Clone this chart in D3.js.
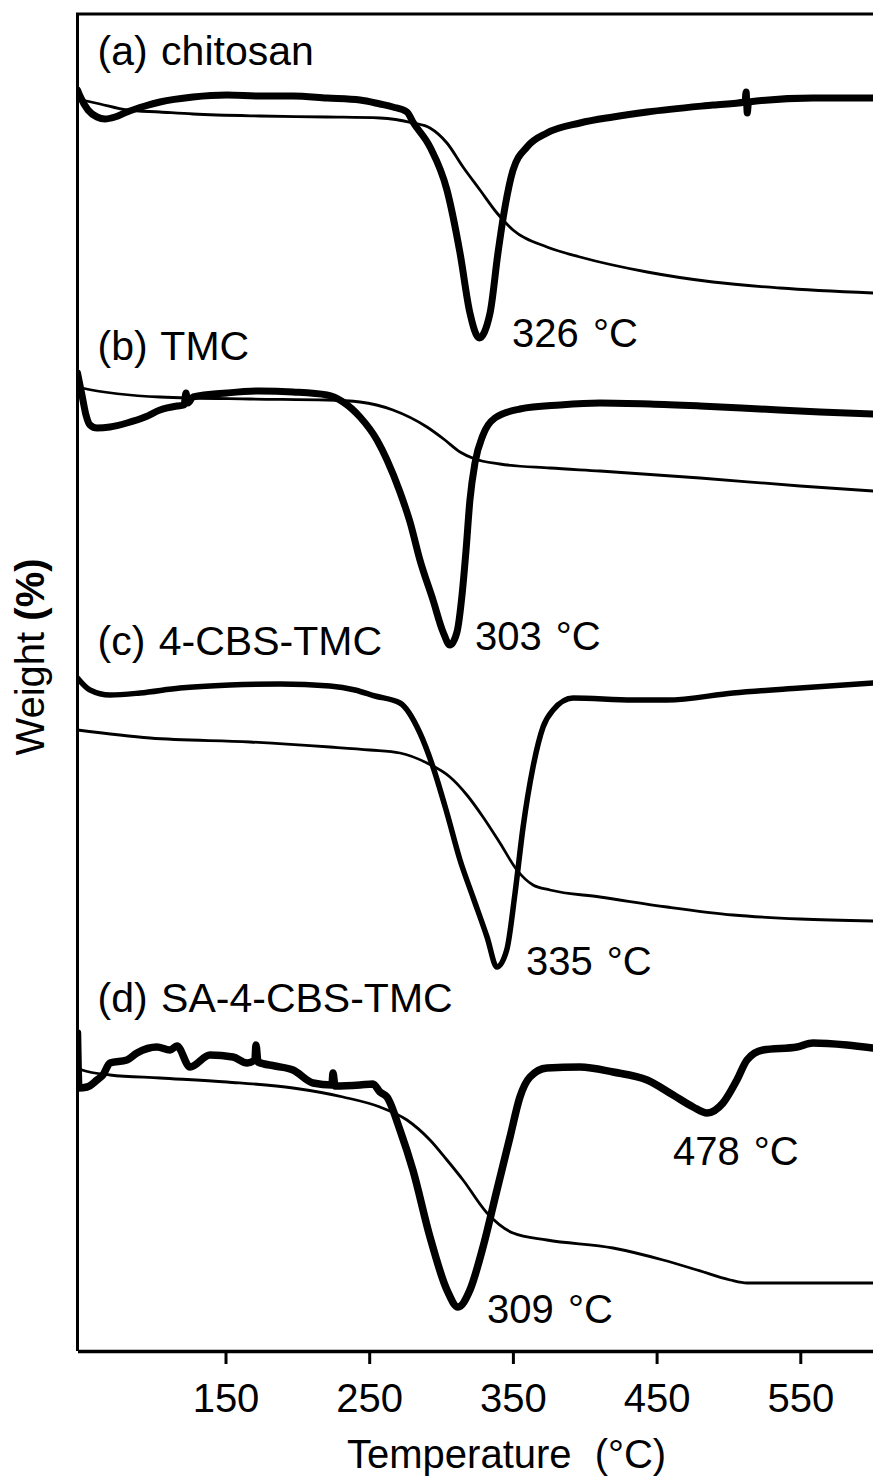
<!DOCTYPE html>
<html>
<head>
<meta charset="utf-8">
<script src="https://cdn.jsdelivr.net/npm/d3@7"></script>
<style>
  html, body { margin: 0; padding: 0; background: #fff; }
  svg { display: block; }
  text { font-family: "Liberation Sans", Arial, sans-serif; fill: #000; }
</style>
</head>
<body>
<svg id="chart" width="873" height="1481"></svg>
<script>
// ---------- DATA (temperature in °C, signal in arbitrary stacked units) ----------
const xTicks = [150, 250, 350, 450, 550];
const xLabel = "Temperature (\u00B0C)";
const yLabel = "Weight ";
const yLabelBold = "(%)";

const panelNames = ["(a) chitosan", "(b) TMC", "(c) 4-CBS-TMC", "(d) SA-4-CBS-TMC"];
const panelNameT = [61, 61, 61, 61];
const panelNameU = [128.6, 99.1, 69.6, 33.9];

const peakLabels = ["326 \u00B0C", "303 \u00B0C", "335 \u00B0C", "478 \u00B0C", "309 \u00B0C"];
const peakLabelT = [349.4, 323.6, 359.1, 461.4, 332.0];
const peakLabelU = [100.4, 70.1, 37.6, 18.6, 2.8];

// (a) chitosan
const tgaA_T = [47.0, 62.7, 81.4, 104.4, 127.4, 174.0, 220.6, 257.5, 280.4, 292.3, 304.1, 315.3, 327.1, 338.9, 350.1, 373.7, 396.7, 443.4, 489.2, 535.9, 600.6];
const tgaA_U = [125.2, 124.7, 124.1, 123.9, 123.7, 123.5, 123.4, 123.3, 122.8, 122.3, 120.8, 118.4, 116.1, 113.8, 112.1, 110.4, 109.4, 107.9, 106.9, 106.3, 105.8];
const dtgA_T = [47.0, 48.7, 54.3, 60.6, 66.1, 73.1, 81.4, 94.0, 104.4, 127.4, 151.0, 174.0, 197.0, 220.6, 243.6, 257.5, 266.5, 276.3, 280.4, 292.3, 304.1, 313.2, 320.1, 326.5, 334.1, 339.6, 344.5, 350.1, 359.8, 373.7, 396.7, 419.7, 443.4, 489.2, 511.5, 512.3, 513.1, 514.0, 558.8, 600.6];
const dtgA_U = [126.1, 125.5, 124.1, 123.4, 123.2, 123.4, 123.9, 124.5, 124.9, 125.4, 125.6, 125.5, 125.5, 125.3, 125.1, 124.7, 124.4, 123.9, 122.9, 120.4, 116.1, 109.8, 103.8, 101.3, 103.8, 109.8, 114.4, 118.1, 120.4, 121.8, 122.8, 123.4, 123.9, 124.6, 124.9, 125.9, 123.8, 124.9, 125.3, 125.3];

// (b) TMC
const tgaB_T = [47.0, 50.1, 104.4, 167.0, 220.6, 243.6, 266.5, 290.2, 302.7, 313.2, 323.6, 341.0, 375.8, 410.6, 480.2, 549.8, 600.6];
const tgaB_U = [96.4, 96.3, 95.4, 95.2, 95.1, 94.9, 94.1, 92.4, 91.1, 89.9, 89.2, 88.7, 88.3, 88.0, 87.3, 86.5, 86.0];
const dtgB_T = [47.0, 50.1, 52.9, 55.7, 60.6, 69.6, 81.4, 94.0, 104.4, 116.2, 121.1, 122.5, 123.9, 127.4, 151.0, 174.0, 197.0, 220.6, 231.8, 243.6, 255.4, 262.4, 271.4, 278.4, 285.3, 294.4, 301.4, 306.2, 311.1, 314.6, 317.4, 320.1, 323.6, 329.2, 337.5, 354.9, 382.8, 410.6, 445.4, 480.2, 522.0, 563.7, 600.6];
const dtgB_U = [97.8, 95.6, 93.6, 92.6, 92.3, 92.4, 92.8, 93.4, 94.1, 94.5, 94.6, 95.8, 94.8, 95.4, 95.8, 96.0, 95.9, 95.6, 94.9, 93.4, 91.1, 89.1, 85.9, 82.9, 79.1, 75.1, 71.9, 70.6, 71.9, 75.6, 80.1, 85.1, 88.8, 91.6, 93.3, 94.2, 94.6, 94.8, 94.7, 94.5, 94.2, 93.9, 93.7];

// (c) 4-CBS-TMC
const tgaC_T = [47.0, 97.5, 167.0, 222.7, 250.5, 271.4, 290.2, 306.2, 318.0, 329.2, 341.0, 352.8, 364.0, 375.8, 410.6, 457.3, 503.2, 549.8, 600.6];
const tgaC_U = [62.1, 61.3, 60.9, 60.4, 60.1, 59.8, 58.8, 57.4, 55.6, 53.4, 50.8, 48.1, 46.6, 46.1, 45.4, 44.4, 43.6, 43.2, 43.0];
const dtgC_T = [47.0, 55.7, 69.6, 90.5, 118.3, 153.1, 187.9, 222.7, 240.1, 254.0, 271.4, 285.3, 294.4, 304.1, 313.2, 322.2, 332.0, 338.9, 345.7, 351.5, 357.1, 364.0, 371.0, 378.0, 391.9, 433.6, 457.3, 503.2, 549.8, 600.6];
const dtgC_U = [67.3, 66.1, 65.6, 65.8, 66.3, 66.6, 66.7, 66.5, 66.1, 65.5, 64.8, 61.8, 58.4, 53.8, 49.1, 45.4, 41.4, 38.4, 40.1, 45.8, 52.4, 58.4, 62.4, 64.1, 65.3, 65.1, 65.1, 65.8, 66.3, 66.8];

// (d) SA-4-CBS-TMC
const tgaD_T = [47.0, 50.1, 69.6, 104.4, 151.0, 197.0, 231.8, 257.5, 276.3, 292.3, 304.1, 315.3, 332.0, 350.1, 373.7, 419.7, 454.5, 478.2, 501.2, 512.9, 549.8, 600.6];
const tgaD_U = [28.3, 28.1, 27.6, 27.3, 26.9, 26.3, 25.4, 24.4, 23.1, 21.1, 19.1, 17.1, 13.8, 11.8, 11.1, 10.3, 9.1, 8.1, 7.1, 6.8, 6.8, 6.8];
const dtgD_T = [47.0, 48.0, 53.6, 60.6, 64.7, 69.6, 81.4, 88.4, 102.3, 111.4, 116.2, 125.3, 139.2, 155.2, 165.0, 170.5, 171.2, 172.6, 184.4, 197.0, 210.9, 224.1, 224.8, 226.2, 243.6, 252.6, 257.5, 262.4, 271.4, 280.4, 292.3, 304.1, 311.8, 320.1, 329.2, 338.9, 348.0, 354.9, 361.9, 373.7, 396.7, 419.7, 443.4, 461.5, 475.4, 485.1, 496.2, 505.9, 512.9, 524.0, 547.7, 558.8, 582.5, 600.6];
const dtgD_U = [31.8, 26.3, 26.4, 27.1, 27.6, 28.8, 29.1, 29.8, 30.4, 30.1, 30.5, 28.4, 29.6, 29.4, 28.8, 29.1, 30.6, 28.9, 28.5, 28.1, 26.8, 26.6, 27.8, 26.5, 26.6, 26.7, 25.9, 25.4, 22.1, 18.1, 11.4, 6.1, 4.4, 6.1, 10.4, 16.1, 21.4, 25.4, 27.4, 28.3, 28.4, 27.9, 27.1, 25.6, 24.4, 23.8, 24.8, 27.1, 29.1, 30.1, 30.4, 30.8, 30.6, 30.3];

// ---------- DRAWING ----------
const svg = d3.select("#chart");
const plotLeft = 77.5, plotRight = 873, plotTop = 14, plotBottom = 1351;

const x = d3.scaleLinear().domain([47, 600.6]).range([plotLeft, plotRight]);
const y = d3.scaleLinear().domain([0, 133.7]).range([plotBottom, plotTop]);

const zip = (ts, us) => ts.map((t, i) => [t, us[i]]);
const series = [
  { d: zip(tgaA_T, tgaA_U), w: 2.8 }, { d: zip(dtgA_T, dtgA_U), w: 7 },
  { d: zip(tgaB_T, tgaB_U), w: 2.8 }, { d: zip(dtgB_T, dtgB_U), w: 7 },
  { d: zip(tgaC_T, tgaC_U), w: 2.8 }, { d: zip(dtgC_T, dtgC_U), w: 5.5 },
  { d: zip(tgaD_T, tgaD_U), w: 2.8 }, { d: zip(dtgD_T, dtgD_U), w: 7.5 }
];

svg.append("clipPath").attr("id", "plotclip")
  .append("rect").attr("x", plotLeft).attr("y", plotTop)
  .attr("width", plotRight - plotLeft).attr("height", plotBottom - plotTop);

const line = d3.line().x(d => x(d[0])).y(d => y(d[1])).curve(d3.curveMonotoneX);

svg.append("g").attr("clip-path", "url(#plotclip)")
  .selectAll("path").data(series).join("path")
  .attr("d", s => line(s.d))
  .attr("fill", "none").attr("stroke", "#000")
  .attr("stroke-width", s => s.w)
  .attr("stroke-linejoin", "round").attr("stroke-linecap", "round");

// frame: left and top
svg.append("line").attr("x1", x.range()[0]).attr("x2", x.range()[0])
  .attr("y1", y.range()[1]).attr("y2", y.range()[0])
  .attr("stroke", "#000").attr("stroke-width", 3);
svg.append("line").attr("x1", x.range()[0] - 1.5).attr("x2", x.range()[1])
  .attr("y1", y.range()[1]).attr("y2", y.range()[1])
  .attr("stroke", "#000").attr("stroke-width", 3);

// bottom axis
const xAxis = d3.axisBottom(x).tickValues(xTicks).tickFormat(d3.format("d"))
  .tickSize(13).tickSizeOuter(0).tickPadding(20);
const gx = svg.append("g").attr("transform", `translate(0,${plotBottom})`).call(xAxis);
gx.select(".domain").attr("stroke", "#000").attr("stroke-width", 3.5);
gx.selectAll(".tick line").attr("stroke", "#000").attr("stroke-width", 3);
gx.selectAll(".tick text").attr("font-size", 40)
  .attr("font-family", "Liberation Sans, Arial, sans-serif").attr("fill", "#000");

svg.append("text").attr("x", 347).attr("y", 1468).attr("text-anchor", "start")
  .attr("font-size", 40).attr("word-spacing", 12).text(xLabel);

const yt = svg.append("text").attr("transform", "translate(44,657) rotate(-90)")
  .attr("text-anchor", "middle").attr("font-size", 40);
yt.append("tspan").text(yLabel);
yt.append("tspan").attr("font-weight", "bold").text(yLabelBold);

// panel labels
svg.selectAll("text.panel").data(panelNames).join("text").attr("class", "panel")
  .attr("x", (d, i) => x(panelNameT[i])).attr("y", (d, i) => y(panelNameU[i]))
  .attr("font-size", 41).attr("word-spacing", 2).text(d => d);

// peak labels
svg.selectAll("text.peak").data(peakLabels).join("text").attr("class", "peak")
  .attr("x", (d, i) => x(peakLabelT[i])).attr("y", (d, i) => y(peakLabelU[i]))
  .attr("font-size", 40).attr("word-spacing", 3).text(d => d);
</script>
</body>
</html>
